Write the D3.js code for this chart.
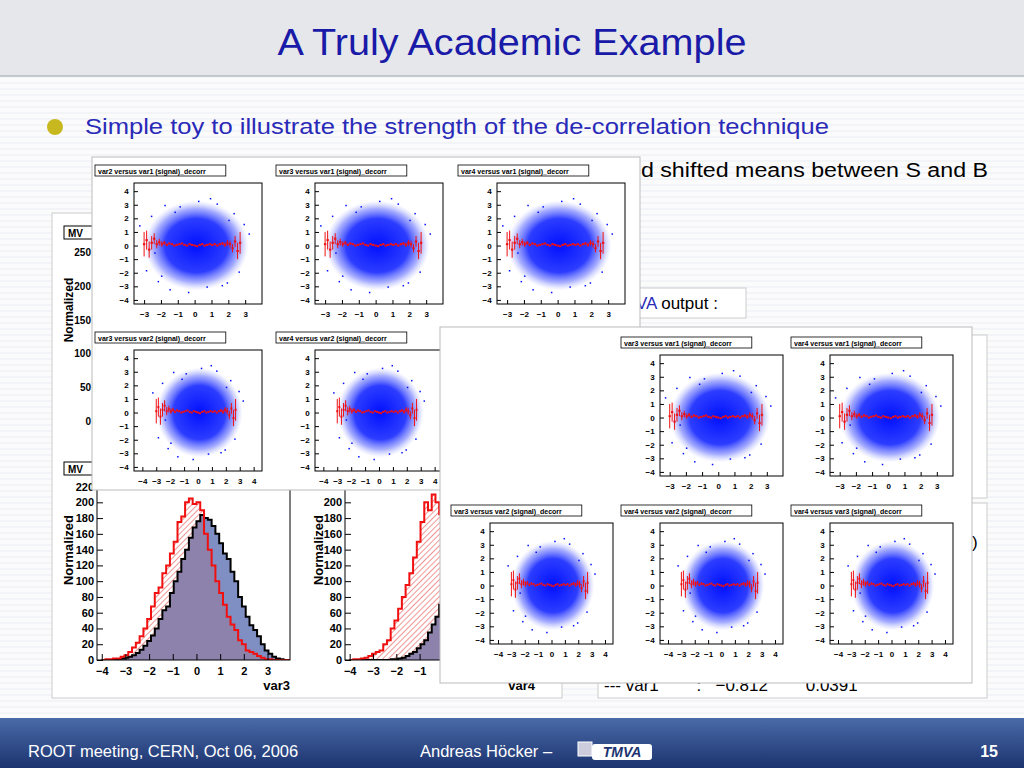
<!DOCTYPE html>
<html><head><meta charset="utf-8">
<script src="https://cdn.jsdelivr.net/npm/d3@7"></script>
<style>body{margin:0;background:#fff}svg{display:block;font-family:"Liberation Sans",Arial,sans-serif}</style>
</head><body><svg id="s" width="1024" height="768"></svg>
<script>
const binEdges0 = -4, binW = 0.16;
const sig3 = [0,0,0,1,1,2,3,4,6,9,13,18,24,31,40,52,63,68,85,100,112,128,140,155,168,176,184,180,178,170,160,148,135,128,112,100,80,68,55,44,38,30,20,12,8,4,2,1,0,0];
const bkg3 = [0,1,1,2,2,4,6,10,16,22,30,40,52,68,85,92,110,120,135,150,175,182,200,205,198,200,190,160,140,120,100,85,70,55,45,38,25,20,12,10,8,5,3,1,1,0,0,0,0,0];
const bkg4 = [0,1,1,2,3,5,8,10,12,20,25,40,50,65,80,95,110,130,150,175,200,190,210,200,185,165,150,130,110,90,70,55,40,30,20,12,8,5,3,2,1,0,0,0,0,0,0,0,0,0];
const sig4 = [0,0,0,0,0,0,0,0,0,0,0,1,1,2,3,5,8,10,15,20,25,35,45,55,70,90,115,130,150,165,180,185,175,160,140,120,95,75,55,40,28,18,10,6,3,2,1,0,0,0];
const profX = [-3.0,-2.85,-2.7,-2.55,-2.4,-2.25,-2.1,-1.95,-1.8,-1.65,-1.5,-1.35,-1.2,-1.05,-0.9,-0.75,-0.6,-0.45,-0.3,-0.15,0,0.15,0.3,0.45,0.6,0.75,0.9,1.05,1.2,1.35,1.5,1.65,1.8,1.95,2.1,2.25,2.4,2.55,2.7];
const profY = [0.1,0.4,-0.3,0.2,0.5,0.1,0.25,0.1,0.2,0.05,0.15,0.1,0.0,0.05,0.1,0.15,0.05,0.0,0.1,0.05,0.0,-0.05,0.05,0.1,0.0,0.05,0.1,0.05,0.1,0.0,0.1,0.15,0.05,0.2,0.1,-0.2,0.3,-0.4,0.2];
const profE = [0.9,0.7,0.6,0.5,0.4,0.3,0.25,0.2,0.15,0.1,0.08,0.06,0.05,0.05,0.04,0.04,0.04,0.04,0.04,0.04,0.04,0.04,0.04,0.04,0.04,0.04,0.04,0.05,0.05,0.06,0.08,0.1,0.15,0.2,0.25,0.3,0.4,0.6,0.8];
const outX = [-3.3,-2.9,-2.6,-2.2,-1.8,-1.5,-0.9,-0.4,0.2,0.7,1.3,1.9,2.3,2.6,2.9,3.2,-2.4,1.6,-1.2,0.9,2.0,-2.0];
const outY = [1.5,-1.8,2.2,-2.6,3.0,-3.2,2.9,-3.4,3.3,-3.0,3.1,-2.7,2.4,-1.9,1.6,0.9,-0.5,-2.9,2.5,3.5,1.9,-2.2];
const titles1 = ["var2 versus var1 (signal)_decorr","var3 versus var1 (signal)_decorr","var4 versus var1 (signal)_decorr","var3 versus var2 (signal)_decorr","var4 versus var2 (signal)_decorr","var4 versus var3 (signal)_decorr"];
const titles2 = ["var3 versus var1 (signal)_decorr","var4 versus var1 (signal)_decorr","var3 versus var2 (signal)_decorr","var4 versus var2 (signal)_decorr","var4 versus var3 (signal)_decorr"];
const xt3 = [-3,-2,-1,0,1,2,3], xt4=[-4,-3,-2,-1,0,1,2,3,4];
const yt4 = [-4,-3,-2,-1,0,1,2,3,4];

const svg = d3.select("#s");
const defs = svg.append("defs");
const rg = defs.append("radialGradient").attr("id","cloud");
rg.append("stop").attr("offset","0%").attr("stop-color","#0010ff").attr("stop-opacity",1);
rg.append("stop").attr("offset","60%").attr("stop-color","#1a2cff").attr("stop-opacity",0.92);
rg.append("stop").attr("offset","82%").attr("stop-color","#4a58ff").attr("stop-opacity",0.5);
rg.append("stop").attr("offset","100%").attr("stop-color","#9aa0ff").attr("stop-opacity",0);
const hp = defs.append("pattern").attr("id","hatch").attr("width",4).attr("height",4).attr("patternUnits","userSpaceOnUse").attr("patternTransform","rotate(45)");
hp.append("line").attr("x1",0).attr("y1",0).attr("x2",0).attr("y2",4).attr("stroke","#e03030").attr("stroke-width",1);
const st = defs.append("pattern").attr("id","stripes").attr("width",8).attr("height",6).attr("patternUnits","userSpaceOnUse");
st.append("rect").attr("width",8).attr("height",6).attr("fill","#fbfbfc");
st.append("line").attr("x1",0).attr("x2",8).attr("y1",5).attr("y2",5).attr("stroke","#eceef2");
const fg = defs.append("linearGradient").attr("id","foot").attr("x1",0).attr("x2",0).attr("y1",0).attr("y2",1);
fg.append("stop").attr("offset","0%").attr("stop-color","#4a6aa8");
fg.append("stop").attr("offset","100%").attr("stop-color","#1c3470");

svg.append("rect").attr("width",1024).attr("height",768).attr("fill","url(#stripes)");
svg.append("rect").attr("x",0).attr("y",0).attr("width",1024).attr("height",76).attr("fill","#e6e7ea");
svg.append("line").attr("x1",0).attr("x2",1024).attr("y1",76).attr("y2",76).attr("stroke","#9aa0ac");
svg.append("text").attr("x",512).attr("y",55).attr("text-anchor","middle").attr("font-size",37).attr("fill","#1a1aa8").attr("textLength",469).attr("lengthAdjust","spacingAndGlyphs").text("A Truly Academic Example");
svg.append("circle").attr("cx",55).attr("cy",127).attr("r",8).attr("fill","#c8b820");
svg.append("text").attr("x",85).attr("y",134).attr("font-size",22).attr("fill","#2a2ab8").attr("textLength",744).attr("lengthAdjust","spacingAndGlyphs").text("Simple toy to illustrate the strength of the de-correlation technique");
svg.append("text").attr("x",628).attr("y",177).attr("font-size",20).attr("fill","#000").attr("textLength",360).attr("lengthAdjust","spacingAndGlyphs").text("nd shifted means between S and B");
svg.append("rect").attr("x",622).attr("y",288).attr("width",124).attr("height",30).attr("fill","#fff").attr("stroke","#ccc");
svg.append("text").attr("x",636).attr("y",309).attr("font-size",17).attr("fill","#2a2ab8").text("VA").append("tspan").attr("fill","#000").text(" output :");

svg.append("rect").attr("x",52).attr("y",213).attr("width",510).attr("height",485).attr("fill","#fff").attr("stroke","#ccc");
svg.append("rect").attr("x",598).attr("y",335).attr("width",389).attr("height",163).attr("fill","#fff").attr("stroke","#ccc");
svg.append("rect").attr("x",598).attr("y",503).attr("width",389).attr("height",195).attr("fill","#fff").attr("stroke","#ccc");
svg.append("text").attr("x",604).attr("y",691).attr("font-size",17).attr("xml:space","preserve").text("--- var1        :   \u22120.812        0.0391");
svg.append("text").attr("x",972).attr("y",548).attr("font-size",17).text(")");

svg.append("rect").attr("x",64).attr("y",226).attr("width",40).attr("height",13).attr("fill","#fff").attr("stroke","#000");
svg.append("text").attr("x",68).attr("y",237).attr("font-size",10).attr("font-weight","bold").text("MV");
svg.append("text").attr("transform","translate(73,310) rotate(-90)").attr("text-anchor","middle").attr("font-size",12).attr("font-weight","bold").text("Normalized");
const yTop = d3.scaleLinear().domain([0,250]).range([421,252]);
[0,50,100,150,200,250].forEach(v=>svg.append("text").attr("x",91).attr("y",yTop(v)+4).attr("text-anchor","end").attr("font-size",10).attr("font-weight","bold").text(v));

function hist(x0,x1,yb,yt,ymax,ticks,sig,bkg,xlab,xlx,ylabx){
  const g = svg.append("g");
  const x = d3.scaleLinear().domain([-4.2,3.95]).range([x0,x1]);
  const y = d3.scaleLinear().domain([0,ymax]).range([yb,yt]);
  const cid = "c"+x0;
  defs.append("clipPath").attr("id",cid).append("rect").attr("x",x0).attr("y",yt).attr("width",x1-x0).attr("height",yb-yt);
  const pts = arr => { const p=[[x(binEdges0),y(0)]]; arr.forEach((v,i)=>{p.push([x(binEdges0+i*binW),y(v)]);p.push([x(binEdges0+(i+1)*binW),y(v)]);}); p.push([x(binEdges0+arr.length*binW),y(0)]); return p;};
  const ln = d3.line();
  const pc = g.append("g").attr("clip-path",`url(#${cid})`);
  pc.append("path").attr("d",ln(pts(sig))).attr("fill","#7f8fc4");
  pc.append("path").attr("d",ln(pts(bkg))).attr("fill","url(#hatch)");
  pc.append("path").attr("d",ln(pts(bkg.map((v,i)=>Math.min(v,sig[i]))))).attr("fill","#8c82ac");
  pc.append("path").attr("d",ln(pts(sig))).attr("fill","none").attr("stroke","#000").attr("stroke-width",2);
  pc.append("path").attr("d",ln(pts(bkg))).attr("fill","none").attr("stroke","#f01010").attr("stroke-width",2);
  g.append("rect").attr("x",x0).attr("y",yt).attr("width",x1-x0).attr("height",yb-yt).attr("fill","none").attr("stroke","#000");
  g.append("g").attr("transform",`translate(0,${yb})`).call(d3.axisBottom(x).tickValues([-4,-3,-2,-1,0,1,2,3]).tickSize(-6).tickFormat(d3.format("d")))
   .call(a=>{a.select(".domain").remove();a.selectAll("text").attr("font-size",11).attr("font-weight","bold").attr("dy","1.1em");});
  g.append("g").attr("transform",`translate(${x0},0)`).call(d3.axisLeft(y).tickValues(ticks).tickSize(-6))
   .call(a=>{a.select(".domain").remove();a.selectAll("text").attr("font-size",11).attr("font-weight","bold");});
  g.append("text").attr("x",xlx).attr("y",690).attr("text-anchor","end").attr("font-size",13).attr("font-weight","bold").text(xlab);
  g.append("text").attr("transform",`translate(${ylabx},550) rotate(-90)`).attr("text-anchor","middle").attr("font-size",13).attr("font-weight","bold").text("Normalized");
}
hist(97,290,660,470,241,[0,20,40,60,80,100,120,140,160,180,200,220],sig3,bkg3,"var3",290,73);
hist(345,535,660,470,241,[0,20,40,60,80,100,120,140,160,180,200],sig4,bkg4,"var4",535,323);
svg.append("rect").attr("x",64).attr("y",462).attr("width",40).attr("height",13).attr("fill","#fff").attr("stroke","#000");
svg.append("text").attr("x",68).attr("y",473).attr("font-size",10).attr("font-weight","bold").text("MV");

function scatter(px,py,title,xt,w){
  const g = svg.append("g").attr("transform",`translate(${px},${py})`);
  const fx0=42, fx1=w-10, fy0=25, fy1=146;
  g.append("rect").attr("x",3).attr("y",7).attr("width",title.length*3.9+6).attr("height",11).attr("fill","#fff").attr("stroke","#000").attr("stroke-width",0.8);
  g.append("text").attr("x",6).attr("y",15.5).attr("font-size",7).attr("font-weight","bold").text(title);
  const xd = xt.length>7?[-4.6,4.6]:[-3.6,4.0];
  const x = d3.scaleLinear().domain(xd).range([fx0,fx1]);
  const y = d3.scaleLinear().domain([-4.3,4.6]).range([fy1,fy0]);
  g.append("rect").attr("x",fx0).attr("y",fy0).attr("width",fx1-fx0).attr("height",fy1-fy0).attr("fill","#fff").attr("stroke","#000");
  g.append("ellipse").attr("cx",x(0.1)).attr("cy",y(0)).attr("rx",Math.abs(x(3.1)-x(0))).attr("ry",Math.abs(y(0)-y(3.3))).attr("fill","url(#cloud)");
  g.selectAll(".o").data(outX).join("rect").attr("x",(d)=>x(d)).attr("y",(d,i)=>y(outY[i])).attr("width",1.5).attr("height",1.5).attr("fill","#0010ff");
  const pg = g.append("g").attr("stroke","#f01010").attr("fill","#f01010");
  profX.forEach((px2,i)=>{
    pg.append("line").attr("x1",x(px2)).attr("x2",x(px2)).attr("y1",y(profY[i]-profE[i])).attr("y2",y(profY[i]+profE[i]));
    pg.append("line").attr("x1",x(px2-0.07)).attr("x2",x(px2+0.07)).attr("y1",y(profY[i])).attr("y2",y(profY[i])).attr("stroke-width",2);
  });
  g.append("g").attr("transform",`translate(0,${fy1})`).call(d3.axisBottom(x).tickValues(xt).tickSize(-4).tickFormat(d3.format("d")))
   .call(a=>{a.select(".domain").remove();a.selectAll("text").attr("font-size",8).attr("font-weight","bold").attr("dy","1.3em");});
  g.append("g").attr("transform",`translate(${fx0},0)`).call(d3.axisLeft(y).tickValues(yt4).tickSize(-4))
   .call(a=>{a.select(".domain").remove();a.selectAll("text").attr("font-size",8).attr("font-weight","bold").attr("dx","-0.3em");});
}
svg.append("rect").attr("x",92).attr("y",157).attr("width",548).attr("height",333).attr("fill","#fff").attr("stroke","#bbb");
const w1x=[92,273,455], w1y=[158,325];
titles1.forEach((t,i)=>scatter(w1x[i%3],w1y[Math.floor(i/3)],t,i<3?xt3:xt4,180));
svg.append("rect").attr("x",440).attr("y",327).attr("width",532).attr("height",356).attr("fill","#fff").attr("stroke","#bbb");
const w2 = [[618,330],[788,330],[448,498],[618,498],[788,498]];
titles2.forEach((t,i)=>scatter(w2[i][0],w2[i][1],t,i<2?xt3:xt4,175));

svg.append("rect").attr("x",0).attr("y",718).attr("width",1024).attr("height",50).attr("fill","url(#foot)");
svg.append("text").attr("x",28).attr("y",757).attr("font-size",16.5).attr("fill","#fff").text("ROOT meeting, CERN, Oct 06, 2006");
svg.append("text").attr("x",420).attr("y",757).attr("font-size",16.5).attr("fill","#fff").text("Andreas Höcker  \u2013");
svg.append("rect").attr("x",578).attr("y",742).attr("width",14).attr("height",14).attr("fill","#ccd").attr("stroke","#fff");
svg.append("rect").attr("x",592).attr("y",744).attr("width",60).attr("height",16).attr("fill","#fff").attr("rx",3);
svg.append("text").attr("x",622).attr("y",757).attr("text-anchor","middle").attr("font-size",14).attr("font-weight","bold").attr("font-style","italic").attr("fill","#1c3470").text("TMVA");
svg.append("text").attr("x",998).attr("y",757).attr("text-anchor","end").attr("font-size",16).attr("font-weight","bold").attr("fill","#fff").text("15");
</script></body></html>
